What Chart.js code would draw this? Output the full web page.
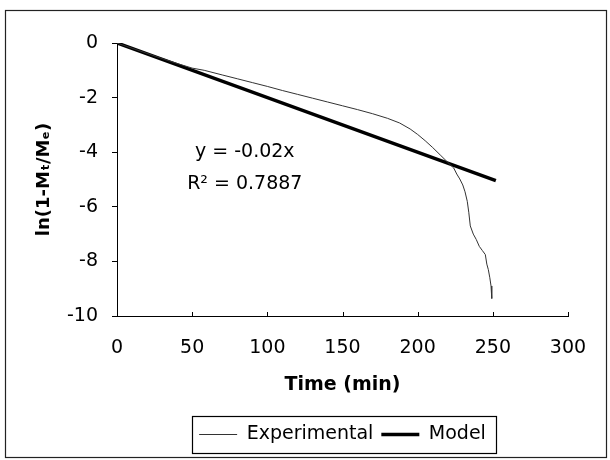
<!DOCTYPE html>
<html><head><meta charset="utf-8">
<script src="https://cdn.jsdelivr.net/npm/chart.js@4/dist/chart.umd.min.js"></script>
<style>html,body{margin:0;padding:0;background:#fff}#wrap{width:610px;height:460px;position:relative}</style>
</head><body><div id="wrap"><canvas id="c" width="610" height="460"></canvas></div>
<script>
// ---- data ----
const expTime  = [0, 10, 20, 30, 40, 50, 58, 70, 80, 90, 100, 110, 120, 130, 140, 150, 160, 170, 180, 188, 195, 200, 205, 210, 215, 220, 224, 226, 228, 230, 231.5, 233, 234, 235, 236, 237, 239, 241, 243, 245, 246, 247, 248, 248.8, 249.3];
const expValue = [0, -0.19, -0.38, -0.57, -0.75, -0.92, -1.0, -1.17, -1.31, -1.45, -1.59, -1.74, -1.88, -2.02, -2.16, -2.3, -2.44, -2.59, -2.76, -2.93, -3.15, -3.35, -3.58, -3.83, -4.1, -4.37, -4.58, -4.8, -4.98, -5.2, -5.45, -5.8, -6.2, -6.7, -6.85, -7.0, -7.2, -7.45, -7.6, -7.75, -8.1, -8.3, -8.6, -8.9, -9.36];
const modelTime  = [0, 252];
const modelValue = [0, -5.04];
const seriesNames = ['Experimental', 'Model'];
const xTitle = 'Time (min)';
const yTitle = 'ln(1-M\u209C/M\u2091)';
const fitLines = ['y = -0.02x', 'R\u00B2 = 0.7887'];

const FONT = '"DejaVu Sans", "Liberation Sans", Arial, sans-serif';

const decor = {
  id: 'decor',
  beforeDraw(chart) {
    const ctx = chart.ctx;
    ctx.save();
    ctx.fillStyle = '#fff';
    ctx.fillRect(0, 0, chart.width, chart.height);
    ctx.strokeStyle = '#222';
    ctx.lineWidth = 1.2;
    ctx.strokeRect(5.5, 10.5, chart.width - 9, chart.height - 13);
    ctx.restore();
  },
  afterDraw(chart, args, o) {
    const ctx = chart.ctx, xs = chart.scales.x, ys = chart.scales.y;
    ctx.save();
    ctx.strokeStyle = '#000';
    ctx.lineWidth = 1;
    xs.ticks.forEach(t => {
      const px = Math.round(xs.getPixelForValue(t.value)) + 0.5;
      ctx.beginPath(); ctx.moveTo(px, ys.bottom); ctx.lineTo(px, ys.bottom - 4); ctx.stroke();
    });
    ctx.font = '19px ' + FONT;
    ctx.fillStyle = '#000';
    ctx.textAlign = 'center';
    ctx.textBaseline = 'middle';
    fitLines.forEach((s, i) => ctx.fillText(s, xs.getPixelForValue(o.textX), ys.getPixelForValue(o.textY[i])));
    const hb = chart.legend.legendHitBoxes;
    if (hb && hb.length) {
      const l = Math.min(...hb.map(h => h.left)) - 7;
      const r = Math.max(...hb.map(h => h.left + h.width)) + 10;
      const cy = (Math.min(...hb.map(h => h.top)) + Math.max(...hb.map(h => h.top + h.height))) / 2;
      ctx.lineWidth = 1.2;
      ctx.strokeRect(Math.round(l) + 0.5, Math.round(cy - 18.5) + 0.5, Math.round(r - l), 37);
    }
    ctx.restore();
  }
};

new Chart(document.getElementById('c'), {
  type: 'scatter',
  data: {
    datasets: [
      {
        label: seriesNames[0],
        data: expTime.map((t, i) => ({x: t, y: expValue[i]})),
        showLine: true, borderColor: '#333', backgroundColor: '#333',
        borderWidth: 1, pointRadius: 0, tension: 0
      },
      {
        label: seriesNames[1],
        data: modelTime.map((t, i) => ({x: t, y: modelValue[i]})),
        showLine: true, borderColor: '#000', backgroundColor: '#000',
        borderWidth: 3.5, pointRadius: 0, tension: 0
      }
    ]
  },
  options: {
    responsive: false,
    devicePixelRatio: 1,
    animation: false,
    layout: {padding: {left: 0, right: 42, top: 43, bottom: 6}},
    scales: {
      x: {
        type: 'linear', min: 0, max: 300,
        afterFit: s => { s.height = 101; },
        ticks: {stepSize: 50, color: '#000', padding: 21, font: {size: 19, family: FONT}, maxRotation: 0},
        grid: {display: false, drawTicks: false},
        border: {display: true, color: '#000', width: 1},
        title: {display: true, text: xTitle, color: '#000', font: {size: 19, weight: 'bold', family: FONT}, padding: {top: 0, bottom: 21}}
      },
      y: {
        min: -10, max: 0,
        afterFit: s => { s.width = 117; },
        ticks: {stepSize: 2, color: '#000', padding: 14, font: {size: 19, family: FONT}},
        grid: {display: true, drawOnChartArea: false, drawTicks: true, tickLength: 5, color: '#000'},
        border: {display: true, color: '#000', width: 1},
        title: {display: true, text: yTitle, color: '#000', font: {size: 18, weight: 'bold', family: FONT}, padding: {top: 34, bottom: 0}}
      }
    },
    plugins: {
      legend: {
        position: 'bottom', fullSize: false,
        labels: {
          usePointStyle: true, pointStyle: 'line', pointStyleWidth: 38,
          color: '#000', padding: 8, font: {size: 19, family: FONT}
        }
      },
      tooltip: {enabled: false},
      decor: {textX: 85, textY: [-4.0, -5.15]}
    }
  },
  plugins: [decor]
});
</script>
</body></html>
